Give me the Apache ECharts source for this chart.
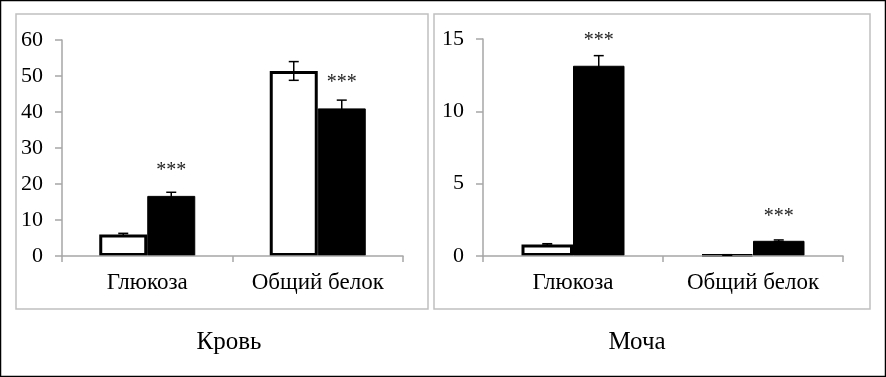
<!DOCTYPE html>
<html>
<head>
<meta charset="utf-8">
<script src="https://cdn.jsdelivr.net/npm/echarts@6/dist/echarts.min.js"></script>
<style>
html,body{margin:0;padding:0;background:#fff;}
#c{width:886px;height:377px;}
</style>
</head>
<body>
<div id="c"></div>
<script>
// ---- data ----
const categories = ['Глюкоза', 'Общий белок'];
const panelTitles = ['Кровь', 'Моча'];

const bloodControl = [6.0, 51.4];
const bloodControlErr = [0.3, 2.6];
const bloodTreated = [16.7, 41.0];
const bloodTreatedErr = [1.0, 2.3];
const bloodSig = ['***', '***'];
const bloodSigY = [23.7, 48.1];

const urineControl = [0.8, 0.07];
const urineControlErr = [0.05, 0.02];
const urineTreated = [13.15, 1.05];
const urineTreatedErr = [0.7, 0.06];
const urineSig = ['***', '***'];
const urineSigY = [14.85, 2.7];

const bloodTicks = [0, 10, 20, 30, 40, 50, 60];
const urineTicks = [0, 5, 10, 15];

// ---- style ----
const FONT = 'Liberation Serif';
const AXIS_GRAY = '#a6a6a6';
const BAR_W = [48, 51.5];

const chart = echarts.init(document.getElementById('c'), null, {renderer: 'canvas'});

function errSeries(xi, means, errs, side, sig, sigY) {
  const data = means.map((m, i) => [i, m, errs[i]]);
  return {
    type: 'custom',
    xAxisIndex: xi, yAxisIndex: xi,
    z: 10,
    silent: true,
    data: data,
    renderItem: function (params, api) {
      const i = api.value(0), m = api.value(1), e = api.value(2);
      const off = side * BAR_W[xi] / 2;
      const top = api.coord([i, m + e]);
      const bot = api.coord([i, Math.max(m - e, 0)]);
      const x = top[0] + off;
      const cap = 5;
      const st = {stroke: '#000', lineWidth: 1.5};
      const children = [
        {type: 'line', shape: {x1: x, y1: top[1], x2: x, y2: bot[1]}, style: st},
        {type: 'line', shape: {x1: x - cap, y1: top[1], x2: x + cap, y2: top[1]}, style: st},
        {type: 'line', shape: {x1: x - cap, y1: bot[1], x2: x + cap, y2: bot[1]}, style: st}
      ];
      if (sig) {
        const sp = api.coord([i, sigY[i]]);
        children.push({type: 'text', x: x, y: sp[1],
          style: {text: sig[i], font: '20px "' + FONT + '"', fill: '#222',
                  align: 'center', verticalAlign: 'middle'}});
      }
      return {type: 'group', children: children};
    }
  };
}

function xAxisCfg(gi) {
  return {
    type: 'category', gridIndex: gi, data: categories,
    axisLine: {show: true, lineStyle: {color: AXIS_GRAY, width: 1.5}},
    axisTick: {show: true, length: 6, lineStyle: {color: AXIS_GRAY, width: 1.5}},
    axisLabel: {fontFamily: FONT, fontSize: 23, color: '#000', margin: 15,
                interval: 0, hideOverlap: false},
    z: 5
  };
}
function yAxisCfg(gi, ticks) {
  return {
    type: 'value', gridIndex: gi,
    min: ticks[0], max: ticks[ticks.length - 1], interval: ticks[1] - ticks[0],
    axisLine: {show: true, lineStyle: {color: AXIS_GRAY, width: 1.5}},
    axisTick: {show: true, length: 7, lineStyle: {color: AXIS_GRAY, width: 1.5}},
    splitLine: {show: false},
    axisLabel: {fontFamily: FONT, fontSize: 22, color: '#000', margin: 19}
  };
}
function barCfg(gi, vals, filled) {
  return {
    type: 'bar', xAxisIndex: gi, yAxisIndex: gi, data: vals,
    barWidth: BAR_W[gi], barGap: '0%',
    itemStyle: filled ? {color: '#000', borderColor: '#000', borderWidth: 1}
                      : {color: '#fff', borderColor: '#000', borderWidth: 3},
    silent: true, animation: false
  };
}

chart.setOption({
  animation: false,
  backgroundColor: '#fff',
  title: [
    {text: panelTitles[0], left: 224, top: 325, textAlign: 'center',
     textStyle: {fontFamily: FONT, fontSize: 25, fontWeight: 'normal', color: '#000'}},
    {text: panelTitles[1], left: 632, top: 325, textAlign: 'center',
     textStyle: {fontFamily: FONT, fontSize: 25, fontWeight: 'normal', color: '#000'}}
  ],
  graphic: [
    {type: 'rect', shape: {x: 0.5, y: 0.5, width: 885, height: 376},
     style: {fill: null, stroke: '#000', lineWidth: 1.5}, z: -1},
    {type: 'rect', shape: {x: 16, y: 14, width: 412, height: 295},
     style: {fill: null, stroke: '#c0c0c0', lineWidth: 1.5}, z: -1},
    {type: 'rect', shape: {x: 434, y: 14, width: 436, height: 295},
     style: {fill: null, stroke: '#c0c0c0', lineWidth: 1.5}, z: -1}
  ],
  grid: [
    {left: 62, right: 483, top: 40, bottom: 121},
    {left: 483, right: 43, top: 39, bottom: 121}
  ],
  xAxis: [xAxisCfg(0), xAxisCfg(1)],
  yAxis: [yAxisCfg(0, bloodTicks), yAxisCfg(1, urineTicks)],
  series: [
    barCfg(0, bloodControl, false),
    barCfg(0, bloodTreated, true),
    barCfg(1, urineControl, false),
    barCfg(1, urineTreated, true),
    errSeries(0, bloodControl, bloodControlErr, -1, null, null),
    errSeries(0, bloodTreated, bloodTreatedErr, 1, bloodSig, bloodSigY),
    errSeries(1, urineControl, urineControlErr, -1, null, null),
    errSeries(1, urineTreated, urineTreatedErr, 1, urineSig, urineSigY)
  ]
});
</script>
</body>
</html>
